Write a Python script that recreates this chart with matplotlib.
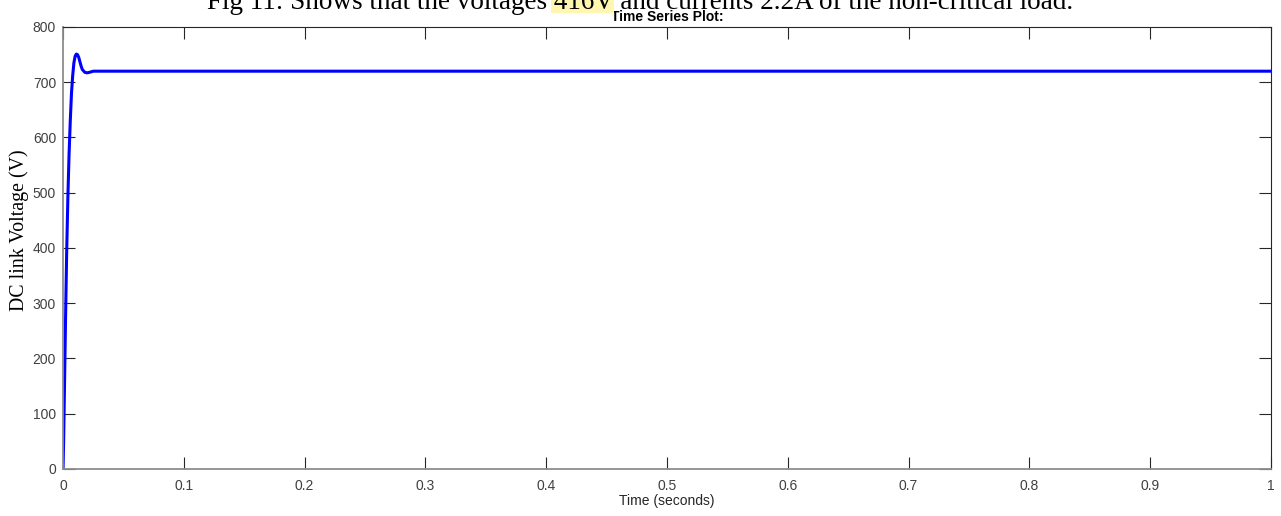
import numpy as np
import matplotlib.pyplot as plt
from matplotlib.patches import Rectangle

# DC link voltage
t = [0, 0.0005, 0.001, 0.0015, 0.002, 0.003, 0.004, 0.005, 0.006, 0.007, 0.008,
     0.009, 0.010, 0.011, 0.012, 0.013, 0.014, 0.015, 0.016, 0.018, 0.020,
     0.022, 0.025, 0.03, 1.0]
v = [0, 50, 120, 190, 260, 390, 490, 570, 630, 680, 712,
     735, 747, 751, 750, 745, 737, 729, 723, 718, 717,
     718, 720, 720, 720]

xticks = [0, 0.1, 0.2, 0.3, 0.4, 0.5, 0.6, 0.7, 0.8, 0.9, 1]
xticklabels = ['0', '0.1', '0.2', '0.3', '0.4', '0.5', '0.6', '0.7', '0.8', '0.9', '1']
yticks = [0, 100, 200, 300, 400, 500, 600, 700, 800]

cap_pre = 'Fig 11: Shows that the voltages '
cap_mark = '416V'
cap_post = ' and currents 2.2A of the non-critical load.'

plt.rcParams['font.family'] = ['Liberation Sans', 'DejaVu Sans']

fig = plt.figure(figsize=(12.81, 5.16), dpi=100)
ax = fig.add_axes([0.0492, 0.0911, 0.943, 0.8566])

ax.plot(t, v, color='#0000ff', lw=2.2)
ax.set_xlim(0, 1)
ax.set_ylim(0, 800)
ax.set_xticks(xticks)
ax.set_xticklabels(xticklabels)
ax.set_yticks(yticks)
ax.tick_params(direction='in', length=8.5, width=0.8, colors='#262626',
               labelcolor='#404040', labelsize=10, top=True, right=True)
ax.tick_params(axis='x', pad=7)
ax.tick_params(axis='y', pad=5)
for s in ax.spines.values():
    s.set_color('#262626')
    s.set_linewidth(0.8)
for s in ['bottom', 'left']:
    ax.spines[s].set_color('#8c8c8c')
    ax.spines[s].set_linewidth(1.3)

ax.set_xlabel('Time (seconds)', fontsize=10, color='#262626', labelpad=1)
ax.set_ylabel('DC link Voltage (V)', fontsize=14.3, family='Liberation Serif')
ax.yaxis.set_label_coords(-0.028, 0.541)
ax.set_title('Time Series Plot:', fontsize=10, fontweight='bold', pad=4.5)

# caption, cut at the top edge as in the source, with the highlighted value
cap = fig.text(0.4996, 0.9826, cap_pre + cap_mark + cap_post, ha='center',
               va='baseline', fontsize=19.5, family='Liberation Serif', zorder=3)
fig.canvas.draw()
r = fig.canvas.get_renderer()
full = cap.get_window_extent(r)
probe = fig.text(0, 0, cap_pre + cap_mark, fontsize=19.5, family='Liberation Serif')
w_pre_mark = probe.get_window_extent(r).width
probe.set_text(cap_pre.rstrip())
w_pre = probe.get_window_extent(r).width
probe.remove()
x0 = full.x0 + w_pre + 4
x1 = full.x0 + w_pre_mark
fig.patches.append(Rectangle((x0 / 1281, 1 - 13 / 516), (x1 - x0) / 1281, 13 / 516,
                             transform=fig.transFigure, color='#fff7b0',
                             zorder=1, lw=0))

fig.savefig('out.png', dpi=100)
